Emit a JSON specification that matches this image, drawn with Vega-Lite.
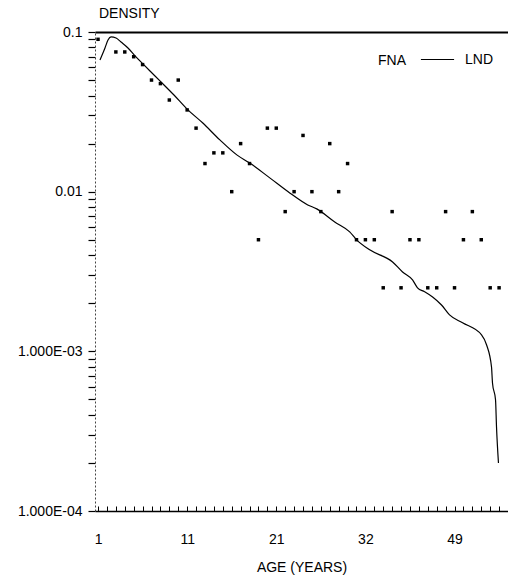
{
  "$schema": "https://vega.github.io/schema/vega-lite/v6.json",
  "width": 413,
  "height": 479,
  "autosize": {"type": "none"},
  "padding": {"left": 95, "top": 32, "right": 0, "bottom": 66},
  "background": "white",
  "title": {"text": "DENSITY", "anchor": "start", "frame": "group", "font": "Liberation Sans", "fontSize": 14, "fontWeight": "normal", "color": "black", "offset": 4, "dx": 4},
  "config": {
    "view": {"stroke": null},
    "axis": {"labelFont": "Liberation Sans", "titleFont": "Liberation Sans", "labelColor": "black", "titleColor": "black", "tickColor": "black", "grid": false, "labelOverlap": false, "labelFlush": false}
  },
  "datasets": {
    "fna": [
      {"age": 1, "density": 0.09}, {"age": 3, "density": 0.075}, {"age": 4, "density": 0.075},
      {"age": 5, "density": 0.07}, {"age": 6, "density": 0.0625}, {"age": 7, "density": 0.05},
      {"age": 8, "density": 0.0475}, {"age": 9, "density": 0.0375}, {"age": 10, "density": 0.05},
      {"age": 11, "density": 0.0325}, {"age": 12, "density": 0.025}, {"age": 13, "density": 0.015},
      {"age": 14, "density": 0.0175}, {"age": 15, "density": 0.0175}, {"age": 16, "density": 0.01},
      {"age": 17, "density": 0.02}, {"age": 18, "density": 0.015}, {"age": 19, "density": 0.005},
      {"age": 20, "density": 0.025}, {"age": 21, "density": 0.025}, {"age": 22, "density": 0.0075},
      {"age": 23, "density": 0.01}, {"age": 24, "density": 0.0225}, {"age": 25, "density": 0.01},
      {"age": 26, "density": 0.0075}, {"age": 27, "density": 0.02}, {"age": 28, "density": 0.01},
      {"age": 29, "density": 0.015}, {"age": 30, "density": 0.005}, {"age": 31, "density": 0.005},
      {"age": 32, "density": 0.005}, {"age": 33, "density": 0.0025}, {"age": 34, "density": 0.0075},
      {"age": 35, "density": 0.0025}, {"age": 36, "density": 0.005}, {"age": 37, "density": 0.005},
      {"age": 38, "density": 0.0025}, {"age": 39, "density": 0.0025}, {"age": 40, "density": 0.0075},
      {"age": 41, "density": 0.0025}, {"age": 42, "density": 0.005}, {"age": 43, "density": 0.0075},
      {"age": 44, "density": 0.005}, {"age": 45, "density": 0.0025}, {"age": 46, "density": 0.0025}
    ],
    "lnd": [
      {"age": 1.22, "density": 0.0668}, {"age": 1.78, "density": 0.0794}, {"age": 2.12, "density": 0.0891},
      {"age": 2.46, "density": 0.0931}, {"age": 3.02, "density": 0.0917}, {"age": 3.58, "density": 0.0865},
      {"age": 4.36, "density": 0.0794}, {"age": 5.15, "density": 0.0708}, {"age": 6.04, "density": 0.0631},
      {"age": 6.83, "density": 0.057}, {"age": 8.06, "density": 0.0487}, {"age": 9.52, "density": 0.0403},
      {"age": 10.97, "density": 0.033}, {"age": 12.76, "density": 0.0269}, {"age": 14.67, "density": 0.0211},
      {"age": 16.57, "density": 0.017}, {"age": 18.03, "density": 0.0151}, {"age": 20.27, "density": 0.0122},
      {"age": 22.51, "density": 0.00982}, {"age": 24.53, "density": 0.00826}, {"age": 25.54, "density": 0.0078},
      {"age": 27.56, "density": 0.00646}, {"age": 29.24, "density": 0.0056}, {"age": 30.02, "density": 0.00499},
      {"age": 31.48, "density": 0.00432}, {"age": 34.05, "density": 0.00363}, {"age": 35.17, "density": 0.00314},
      {"age": 36.29, "density": 0.0028}, {"age": 36.85, "density": 0.0025}, {"age": 37.64, "density": 0.00236},
      {"age": 38.54, "density": 0.00219}, {"age": 39.54, "density": 0.00195}, {"age": 40.44, "density": 0.00169},
      {"age": 41.9, "density": 0.00151}, {"age": 44.03, "density": 0.00127}, {"age": 44.59, "density": 0.0011},
      {"age": 45.15, "density": 0.000798}, {"age": 45.26, "density": 0.000634}, {"age": 45.6, "density": 0.000497},
      {"age": 45.71, "density": 0.000337}, {"age": 45.93, "density": 0.0002}
    ]
  },
  "resolve": {"axis": {"x": "independent"}},
  "layer": [
    {
      "data": {"name": "lnd"},
      "mark": {"type": "line", "strokeWidth": 1.2, "interpolate": "monotone"},
      "encoding": {
        "x": {
          "field": "age", "type": "quantitative",
          "scale": {"domain": [0.66, 47], "nice": false, "zero": false},
          "axis": {
            "orient": "bottom",
            "title": "AGE  (YEARS)", "titleFontSize": 14, "titleFontWeight": "normal", "titlePadding": 14,
            "values": [1,2,3,4,5,6,7,8,9,10,11,12,13,14,15,16,17,18,19,20,21,22,23,24,25,26,27,28,29,30,31,32,33,34,35,36,37,38,39,40,41,42,43,44,45,46],
            "labelExpr": "datum.value == 1 ? '1' : datum.value == 11 ? '11' : datum.value == 21 ? '21' : datum.value == 31 ? '32' : datum.value == 41 ? '49' : ''",
            "labelFontSize": 14, "labelPadding": 26, "labelOverlap": false, "labelFlush": false,
            "ticks": true, "tickSize": -5, "tickWidth": 1,
            "domainColor": "black", "domainWidth": 1.5
          }
        },
        "y": {
          "field": "density", "type": "quantitative",
          "scale": {"type": "log", "domain": [0.0001, 0.1], "nice": false},
          "axis": {
            "title": null,
            "values": [0.0001,0.0002,0.0003,0.0004,0.0005,0.0006,0.0007,0.0008,0.0009,0.001,0.002,0.003,0.004,0.005,0.006,0.007,0.008,0.009,0.01,0.02,0.03,0.04,0.05,0.06,0.07,0.08,0.09,0.1],
            "labelExpr": "datum.value > 0.099 ? '0.1' : (datum.value > 0.0099 && datum.value < 0.0101) ? '0.01' : (datum.value > 0.00099 && datum.value < 0.00101) ? '1.000E-03' : datum.value < 0.000101 ? '1.000E-04' : ''",
            "labelFontSize": 14, "labelPadding": 6, "labelOverlap": false, "labelFlush": false,
            "tickSize": 7, "tickWidth": 1.2, "grid": false,
            "domainColor": "#444", "domainDash": [2, 2], "domainWidth": 1
          }
        },
        "color": {
          "datum": "LND", "type": "nominal",
          "scale": {"range": ["black"]},
          "legend": {
            "title": "FNA", "titleOrient": "left", "titleAnchor": "middle", "titleFont": "Liberation Sans", "titleFontSize": 14, "titleFontWeight": "normal", "titleColor": "black", "titlePadding": 14, "titleBaseline": "top",
            "orient": "none", "legendX": 283, "legendY": 10,
            "labelFont": "Liberation Sans", "labelFontSize": 14, "labelColor": "black",
            "symbolType": "stroke", "symbolSize": 1100, "symbolStrokeWidth": 1.2, "symbolStrokeColor": "black",
            "labelOffset": 10, "padding": 0
          }
        }
      }
    },
    {
      "data": {"name": "fna"},
      "mark": {"type": "point", "filled": true, "shape": "square", "size": 12, "opacity": 1, "color": "black"},
      "encoding": {
        "x": {
          "field": "age", "type": "quantitative",
          "scale": {"domain": [0.66, 47], "nice": false, "zero": false},
          "axis": {
            "orient": "top", "title": null, "labels": false, "ticks": false, "grid": false,
            "domainColor": "black", "domainWidth": 2
          }
        },
        "y": {
          "field": "density", "type": "quantitative",
          "scale": {"type": "log", "domain": [0.0001, 0.1], "nice": false},
          "axis": {
            "title": null,
            "values": [0.0001,0.0002,0.0003,0.0004,0.0005,0.0006,0.0007,0.0008,0.0009,0.001,0.002,0.003,0.004,0.005,0.006,0.007,0.008,0.009,0.01,0.02,0.03,0.04,0.05,0.06,0.07,0.08,0.09,0.1],
            "labelExpr": "datum.value > 0.099 ? '0.1' : (datum.value > 0.0099 && datum.value < 0.0101) ? '0.01' : (datum.value > 0.00099 && datum.value < 0.00101) ? '1.000E-03' : datum.value < 0.000101 ? '1.000E-04' : ''",
            "labelFontSize": 14, "labelPadding": 6, "labelOverlap": false, "labelFlush": false,
            "tickSize": 7, "tickWidth": 1.2, "grid": false,
            "domainColor": "#444", "domainDash": [2, 2], "domainWidth": 1
          }
        }
      }
    }
  ]
}
